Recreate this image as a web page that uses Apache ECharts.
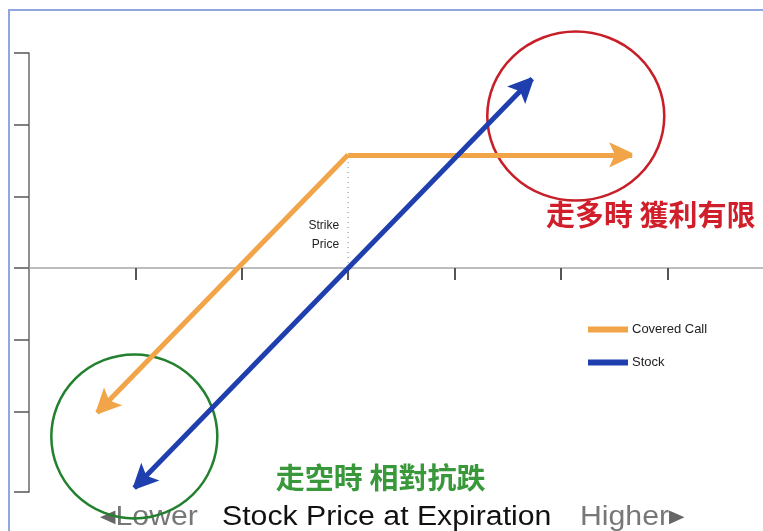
<!DOCTYPE html>
<html>
<head>
<meta charset="utf-8">
<script src="https://cdn.jsdelivr.net/npm/echarts@6/dist/echarts.min.js"></script>
<style>
  html, body { margin: 0; padding: 0; background: #fff; }
  #chart { width: 763px; height: 531px; }
</style>
</head>
<body>
<div id="chart"></div>
<script>
// tick positions (axis units)
const xTickValues = [1, 2, 3, 4, 5, 6];
const yTickValues = [3, 2, 1, 0, -1, -2, -3.125];

// payoff lines
const strikePrice = 3;
const capLevel = 1.58;
const coveredCallLegs = [
    [[strikePrice, capLevel], [0.64, -2.02]],
    [[strikePrice, capLevel], [5.67, capLevel]]
];
const stockLine = [[0.99, -3.07], [4.73, 2.64]];

// highlight circles (centre points)
const upsideCircle = [5.14, 2.12];
const downsideCircle = [0.99, -2.35];

// annotation anchors
const upsideNote = [4.86, 0.74];
const downsideNote = [2.32, -2.93];
const strikeNote = [strikePrice, 0.46];

const ORANGE = '#f2a449';
const BLUE = '#1f3fae';
// wide arrow head; the empty moveTo points pad the box so the tip sits at the centre (= line end)
const ARROW = 'path://M18.5,20 L21.5,20 L31,40 L20,35 L9,40 Z M0,0 M40,0';

const chart = echarts.init(document.getElementById('chart'));

const option = {
    backgroundColor: '#fff',
    animation: false,
    grid: { left: 29, top: 53, bottom: 39, width: 735 },
    xAxis: {
        type: 'value',
        min: 0,
        max: 6.9,
        axisLine: { onZero: true, lineStyle: { color: '#a8a8a8', width: 1.5 } },
        axisTick: { show: true, length: 12, customValues: xTickValues, lineStyle: { color: '#555', width: 2 } },
        axisLabel: { show: false },
        splitLine: { show: false }
    },
    yAxis: {
        type: 'value',
        min: -3.125,
        max: 3,
        axisLine: { show: true, lineStyle: { color: '#6a6a6a', width: 1.5 } },
        axisTick: { show: true, length: 15, customValues: yTickValues, lineStyle: { color: '#555', width: 1.5 } },
        axisLabel: { show: false },
        splitLine: { show: false }
    },
    legend: {
        orient: 'vertical',
        left: 583,
        top: 318,
        itemWidth: 38,
        itemHeight: 4,
        itemGap: 20,
        textStyle: { fontFamily: 'Liberation Sans', fontSize: 13, color: '#222' },
        data: [
            { name: 'Covered Call', icon: 'rect', itemStyle: { color: ORANGE } },
            { name: 'Stock', icon: 'rect', itemStyle: { color: BLUE } }
        ]
    },
    series: [
        {
            name: 'strike',
            type: 'line',
            silent: true,
            symbol: 'none',
            data: [[strikePrice, 0], [strikePrice, capLevel]],
            lineStyle: { color: '#888', width: 1, type: [1, 4] },
            z: 1
        },
        {
            name: 'Covered Call',
            type: 'lines',
            coordinateSystem: 'cartesian2d',
            symbol: ['none', ARROW],
            symbolSize: 46,
            itemStyle: { color: ORANGE },
            lineStyle: { color: ORANGE, width: 5, opacity: 1 },
            data: coveredCallLegs.map(c => ({ coords: c })),
            z: 3
        },
        {
            name: 'Stock',
            type: 'lines',
            coordinateSystem: 'cartesian2d',
            symbol: [ARROW, ARROW],
            symbolSize: 46,
            itemStyle: { color: BLUE },
            lineStyle: { color: BLUE, width: 5, opacity: 1 },
            data: [{ coords: stockLine }],
            z: 4
        },
        {
            name: 'circles',
            type: 'scatter',
            silent: true,
            z: 2,
            itemStyle: { opacity: 1 },
            data: [
                { value: upsideCircle, symbolSize: [177, 169], itemStyle: { color: 'rgba(0,0,0,0)', borderColor: '#c81e28', borderWidth: 2.5, opacity: 1 } },
                { value: downsideCircle, symbolSize: [166, 164], itemStyle: { color: 'rgba(0,0,0,0)', borderColor: '#23802f', borderWidth: 2.5, opacity: 1 } }
            ]
        },
        {
            name: 'notes',
            type: 'scatter',
            silent: true,
            symbolSize: 0,
            z: 5,
            itemStyle: { opacity: 1 },
            data: [
                {
                    value: upsideNote,
                    label: {
                        show: true, position: 'right', distance: 0,
                        formatter: '走多時 獲利有限',
                        fontFamily: 'Noto Sans CJK TC', fontWeight: 'bold', fontSize: 29, color: '#d01f2a'
                    }
                },
                {
                    value: downsideNote,
                    label: {
                        show: true, position: 'right', distance: 0,
                        formatter: '走空時 相對抗跌',
                        fontFamily: 'Noto Sans CJK TC', fontWeight: 'bold', fontSize: 29, color: '#38983a'
                    }
                },
                {
                    value: strikeNote,
                    label: {
                        show: true, position: 'left', distance: 9, align: 'right',
                        formatter: 'Strike\nPrice', lineHeight: 19,
                        fontFamily: 'Liberation Sans', fontSize: 12, color: '#222'
                    }
                }
            ]
        }
    ],
    graphic: [
        {
            type: 'rect',
            silent: true,
            shape: { x: 9, y: 10, width: 800, height: 600 },
            style: { fill: 'none', stroke: '#8ea7e0', lineWidth: 2 }
        },
        {
            type: 'text',
            x: 100,
            y: 504,
            scaleX: 1.12,
            style: {
                text: '{t|◀}{g|Lower}',
                rich: {
                    t: { fontFamily: 'DejaVu Sans', fontSize: 18, fill: '#666', verticalAlign: 'middle', height: 27 },
                    g: { fontFamily: 'Liberation Sans', fontSize: 27, fill: '#777', verticalAlign: 'middle', height: 27 }
                }
            }
        },
        {
            type: 'text',
            x: 222,
            y: 504,
            scaleX: 1.12,
            style: {
                text: 'Stock Price at Expiration',
                fontFamily: 'Liberation Sans', fontSize: 27, fill: '#111'
            }
        },
        {
            type: 'text',
            x: 580,
            y: 504,
            scaleX: 1.12,
            style: {
                text: '{g|Higher}{t|▶}',
                rich: {
                    t: { fontFamily: 'DejaVu Sans', fontSize: 18, fill: '#666', verticalAlign: 'middle', height: 27 },
                    g: { fontFamily: 'Liberation Sans', fontSize: 27, fill: '#777', verticalAlign: 'middle', height: 27 }
                }
            }
        }
    ]
};

chart.setOption(option);
</script>
</body>
</html>
